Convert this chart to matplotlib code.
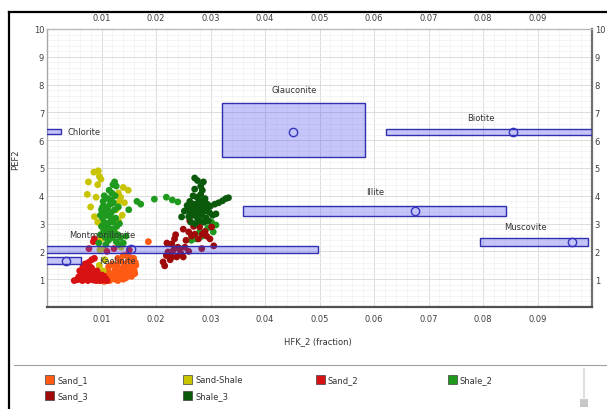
import matplotlib
matplotlib.use("Agg")
import matplotlib.pyplot as plt
from matplotlib.patches import Rectangle
from matplotlib.lines import Line2D
from matplotlib.ticker import MultipleLocator

# mineral reference boxes (HFK range, PEF range, centre point)
minerals = ["Chlorite", "Glauconite", "Biotite", "Illite", "Muscovite", "Montmorillonite", "Kaolinite"]
box_x0 = [-0.002, 0.0322, 0.0622, 0.0359, 0.0794, -0.002, -0.002]
box_x1 = [0.0026, 0.0584, 0.102, 0.0843, 0.0993, 0.0497, 0.0063]
box_y0 = [6.22, 5.40, 6.19, 3.27, 2.19, 1.94, 1.55]
box_y1 = [6.42, 7.34, 6.40, 3.63, 2.48, 2.19, 1.80]
centre_x = [-0.004, 0.0451, 0.0855, 0.0676, 0.0963, 0.0155, 0.0035]
centre_y = [6.32, 6.29, 6.30, 3.45, 2.34, 2.08, 1.66]
label_x = [0.0037, 0.0453, 0.0797, 0.0603, 0.0878, 0.0101, 0.0129]
label_y = [6.32, 7.84, 6.80, 4.14, 2.90, 2.60, 1.69]
label_ha = ["left", "center", "center", "center", "center", "center", "center"]

# crossplot samples per zone
sand1_x = [0.0095, 0.0100, 0.0105, 0.0110, 0.0115, 0.0120, 0.0125, 0.0130, 0.0135, 0.0140, 0.0145, 0.0150,
           0.0155, 0.0160, 0.0105, 0.0112, 0.0118, 0.0125, 0.0132, 0.0138, 0.0145, 0.0152, 0.0158, 0.0163,
           0.0120, 0.0128, 0.0135, 0.0142, 0.0150, 0.0157, 0.0162, 0.0140, 0.0148, 0.0155, 0.0186, 0.0130,
           0.0108, 0.0116, 0.0122, 0.0134, 0.0143, 0.0153, 0.0161, 0.0127, 0.0137, 0.0147, 0.0113, 0.0159]
sand1_y = [0.95, 1.00, 0.92, 1.05, 0.95, 1.10, 1.00, 0.95, 1.15, 1.00, 1.05, 1.20,
           1.10, 1.30, 1.20, 1.30, 1.15, 1.35, 1.25, 1.40, 1.30, 1.45, 1.40, 1.50,
           1.55, 1.50, 1.65, 1.55, 1.70, 1.65, 1.60, 1.85, 1.90, 1.75, 2.35, 1.75,
           1.10, 1.00, 1.22, 1.08, 1.18, 1.28, 1.20, 1.12, 1.35, 1.42, 1.45, 1.75]

sand_shale_x = [0.0076, 0.0086, 0.0094, 0.0099, 0.0093, 0.0074, 0.0080, 0.0087, 0.0093, 0.0124, 0.0140, 0.0149,
                0.0131, 0.0133, 0.0127, 0.0138, 0.0099, 0.0105, 0.0096, 0.0103, 0.0124, 0.0118, 0.0110, 0.0131,
                0.0097, 0.0136, 0.0096, 0.0090, 0.0135, 0.0142, 0.0106]
sand_shale_y = [4.50, 4.85, 4.90, 4.60, 4.40, 4.05, 3.60, 3.25, 3.05, 4.40, 4.30, 4.20,
                4.10, 3.80, 3.50, 3.30, 2.45, 2.10, 1.50, 1.30, 2.70, 2.55, 2.80, 3.10,
                2.05, 2.15, 4.70, 3.95, 3.95, 3.75, 1.70]

sand2_x = [0.0050, 0.0055, 0.0060, 0.0062, 0.0065, 0.0068, 0.0070, 0.0072, 0.0075, 0.0078, 0.0080, 0.0082,
           0.0085, 0.0088, 0.0090, 0.0093, 0.0095, 0.0098, 0.0100, 0.0103, 0.0105, 0.0108, 0.0110, 0.0060,
           0.0066, 0.0072, 0.0078, 0.0084, 0.0090, 0.0096, 0.0070, 0.0076, 0.0082, 0.0064, 0.0087, 0.0087,
           0.0085, 0.0077, 0.0123, 0.0151, 0.0110, 0.0058, 0.0063, 0.0069, 0.0074, 0.0081, 0.0089, 0.0094,
           0.0101, 0.0073, 0.0079, 0.0067, 0.0092]
sand2_y = [0.95, 0.98, 1.00, 1.15, 0.95, 1.25, 1.05, 1.35, 0.95, 1.20, 1.00, 1.40,
           0.97, 1.10, 0.95, 1.05, 1.00, 0.95, 1.05, 0.98, 1.10, 1.00, 0.95, 1.30,
           1.45, 1.15, 1.30, 1.20, 1.25, 1.15, 1.55, 1.60, 1.70, 1.10, 1.75, 2.45,
           2.35, 2.10, 2.10, 2.05, 2.00, 1.08, 1.05, 1.12, 1.08, 1.10, 1.02, 1.12,
           1.15, 1.25, 1.45, 1.38, 1.30]

shale2_x = [0.0095, 0.0098, 0.0100, 0.0102, 0.0100, 0.0103, 0.0105, 0.0108, 0.0110, 0.0112, 0.0110, 0.0107,
            0.0113, 0.0115, 0.0117, 0.0118, 0.0116, 0.0119, 0.0121, 0.0124, 0.0127, 0.0125, 0.0122, 0.0124,
            0.0126, 0.0128, 0.0130, 0.0127, 0.0132, 0.0135, 0.0133, 0.0131, 0.0105, 0.0108, 0.0114, 0.0120,
            0.0098, 0.0140, 0.0145, 0.0150, 0.0165, 0.0172, 0.0197, 0.0219, 0.0230, 0.0240,
            0.0106, 0.0111, 0.0116, 0.0121, 0.0104, 0.0109, 0.0114, 0.0119, 0.0123, 0.0102, 0.0112, 0.0118,
            0.0290, 0.0302, 0.0305, 0.0280, 0.0274, 0.0265, 0.0295, 0.0285, 0.0310]
shale2_y = [2.30, 2.60, 2.90, 3.20, 3.50, 3.80, 4.00, 3.60, 3.30, 3.00, 2.70, 2.50,
            2.40, 2.80, 3.10, 3.40, 3.70, 4.10, 4.40, 4.50, 4.35, 4.00, 3.75, 3.50,
            3.20, 2.90, 2.60, 2.35, 2.25, 2.50, 3.00, 3.60, 3.05, 2.25, 4.20, 2.50,
            3.30, 2.30, 2.55, 3.50, 3.80, 3.70, 3.88, 3.95, 3.85, 3.78,
            3.40, 3.55, 3.25, 3.05, 2.75, 2.85, 2.65, 2.80, 2.70, 3.60, 3.90, 3.85,
            3.10, 3.05, 2.70, 2.70, 2.45, 2.40, 2.85, 2.55, 2.95]

sand3_x = [0.0269, 0.0260, 0.0250, 0.0280, 0.0293, 0.0299, 0.0234, 0.0229, 0.0220, 0.0222, 0.0229, 0.0213,
           0.0216, 0.0238, 0.0250, 0.0243, 0.0253, 0.0278, 0.0271, 0.0290, 0.0302, 0.0262, 0.0278, 0.0284,
           0.0306, 0.0260, 0.0240, 0.0232, 0.0245, 0.0226, 0.0255, 0.0265, 0.0285, 0.0236, 0.0219]
sand3_y = [2.90, 2.70, 2.80, 2.88, 2.55, 2.45, 2.45, 2.27, 2.30, 1.98, 1.80, 1.62,
           1.48, 1.80, 1.80, 2.10, 2.15, 2.45, 2.62, 2.72, 2.88, 3.10, 3.05, 2.10,
           2.20, 2.00, 2.15, 2.05, 1.95, 1.70, 2.40, 2.55, 2.62, 2.60, 1.85]

shale3_x = [0.0271, 0.0287, 0.0276, 0.0282, 0.0271, 0.0268, 0.0275, 0.0282, 0.0290, 0.0262, 0.0270, 0.0278,
            0.0286, 0.0294, 0.0258, 0.0266, 0.0274, 0.0282, 0.0290, 0.0298, 0.0252, 0.0247, 0.0260, 0.0268,
            0.0276, 0.0284, 0.0292, 0.0300, 0.0308, 0.0315, 0.0322, 0.0328, 0.0333, 0.0264, 0.0272, 0.0280,
            0.0288, 0.0296, 0.0304, 0.0310, 0.0266, 0.0273, 0.0280, 0.0287, 0.0294, 0.0263, 0.0279, 0.0285,
            0.0270, 0.0278, 0.0289, 0.0257]
shale3_y = [4.64, 4.50, 4.55, 4.35, 4.24, 4.00, 3.95, 4.05, 3.90, 3.80, 3.70, 3.75,
            3.65, 3.70, 3.50, 3.55, 3.45, 3.50, 3.45, 3.40, 3.45, 3.24, 3.25, 3.30,
            3.20, 3.30, 3.20, 3.63, 3.70, 3.75, 3.82, 3.90, 3.93, 3.05, 3.00, 3.10,
            3.05, 3.10, 3.30, 3.35, 3.65, 3.60, 3.62, 3.55, 3.58, 3.38, 3.85, 4.20,
            3.35, 3.38, 3.80, 3.65]

zones = ["Sand_1", "Sand-Shale", "Sand_2", "Shale_2", "Sand_3", "Shale_3"]
zone_colors = ["#ff5a14", "#c8c400", "#d81212", "#1f9a1f", "#a00a0a", "#0b5a0b"]
zone_x = [sand1_x, sand_shale_x, sand2_x, shale2_x, sand3_x, shale3_x]
zone_y = [sand1_y, sand_shale_y, sand2_y, shale2_y, sand3_y, shale3_y]

W, H = 607, 410
fig = plt.figure(figsize=(W / 100, H / 100), dpi=100)
ax = fig.add_axes([47 / W, 1 - 308 / H, 545 / W, 278 / H])

for xs, ys, c in zip(zone_x, zone_y, zone_colors):
    ax.scatter(xs, ys, s=24, color=c, edgecolors="none", zorder=3)

for i, name in enumerate(minerals):
    ax.add_patch(Rectangle((box_x0[i], box_y0[i]), box_x1[i] - box_x0[i], box_y1[i] - box_y0[i],
                           facecolor=(0.3, 0.3, 0.95, 0.32), edgecolor="#2f2fb0", lw=1.0, zorder=4))
    ax.plot(centre_x[i], centre_y[i], "o", ms=6, mfc="none", mec="#3535c0", mew=1.0, zorder=5)
    ax.text(label_x[i], label_y[i], name, ha=label_ha[i], va="center", fontsize=6, color="#333333", zorder=6)

ax.set_xlim(0, 0.1)
ax.set_ylim(0, 10)
ax.xaxis.set_minor_locator(MultipleLocator(0.002))
ax.yaxis.set_minor_locator(MultipleLocator(0.2))
ax.set_xticks([0.01 * k for k in range(1, 10)])
ax.set_xticklabels(["%.2f" % (0.01 * k) for k in range(1, 10)])
ax.set_yticks(range(1, 11))
ax.grid(which="major", color="#dcdcdc", lw=0.7, zorder=0)
ax.grid(which="minor", color="#f0f0f0", lw=0.5, zorder=0)
ax.set_axisbelow(True)
ax.tick_params(which="both", length=0, labelsize=6, labelcolor="#404040",
               top=True, labeltop=True, right=True, labelright=True)
ax.tick_params(axis="y", which="major", pad=2)
ax.tick_params(axis="x", which="major", pad=5)
for side, col, lw in [("left", "#a8a8a8", 1.0), ("top", "#b8b8b8", 1.0),
                      ("right", "#707070", 1.6), ("bottom", "#505050", 1.6)]:
    ax.spines[side].set_color(col)
    ax.spines[side].set_linewidth(lw)

fig.text(318 / W, 1 - 342 / H, "HFK_2 (fraction)", ha="center", va="center", fontsize=6, color="#333333")
fig.text(16 / W, 1 - 160 / H, "PEF2", rotation=90, ha="center", va="center", fontsize=6, color="#333333")

# outer panel frame
fig.add_artist(Line2D([9 / W, 1], [1 - 13 / H, 1 - 13 / H], color="black", lw=1.6))
fig.add_artist(Line2D([9 / W, 9 / W], [0, 1 - 13 / H], color="black", lw=1.6))
fig.add_artist(Line2D([14 / W, 1], [1 - 366 / H, 1 - 366 / H], color="#a0a0a0", lw=0.8))

# legend
leg_x = [45, 183, 316, 448, 45, 183]
leg_y = [381, 381, 381, 381, 397, 397]
for name, c, lx, ly in zip(zones, zone_colors, leg_x, leg_y):
    fig.add_artist(Rectangle((lx / W, 1 - (ly + 4) / H), 9 / W, 9 / H, facecolor=c,
                             edgecolor="#404040", lw=0.5, transform=fig.transFigure))
    fig.text((lx + 12) / W, 1 - ly / H, name, ha="left", va="center", fontsize=6, color="#333333")

# scroll bar
fig.add_artist(Line2D([584 / W, 584 / W], [1 - 370 / H, 1 - 400 / H], color="#e0e0e0", lw=1.5))
fig.add_artist(Rectangle((580 / W, 1 - 408 / H), 8 / W, 8 / H, facecolor="#c8c8c8",
                         edgecolor="none", transform=fig.transFigure))

fig.savefig("out.png", dpi=100)
